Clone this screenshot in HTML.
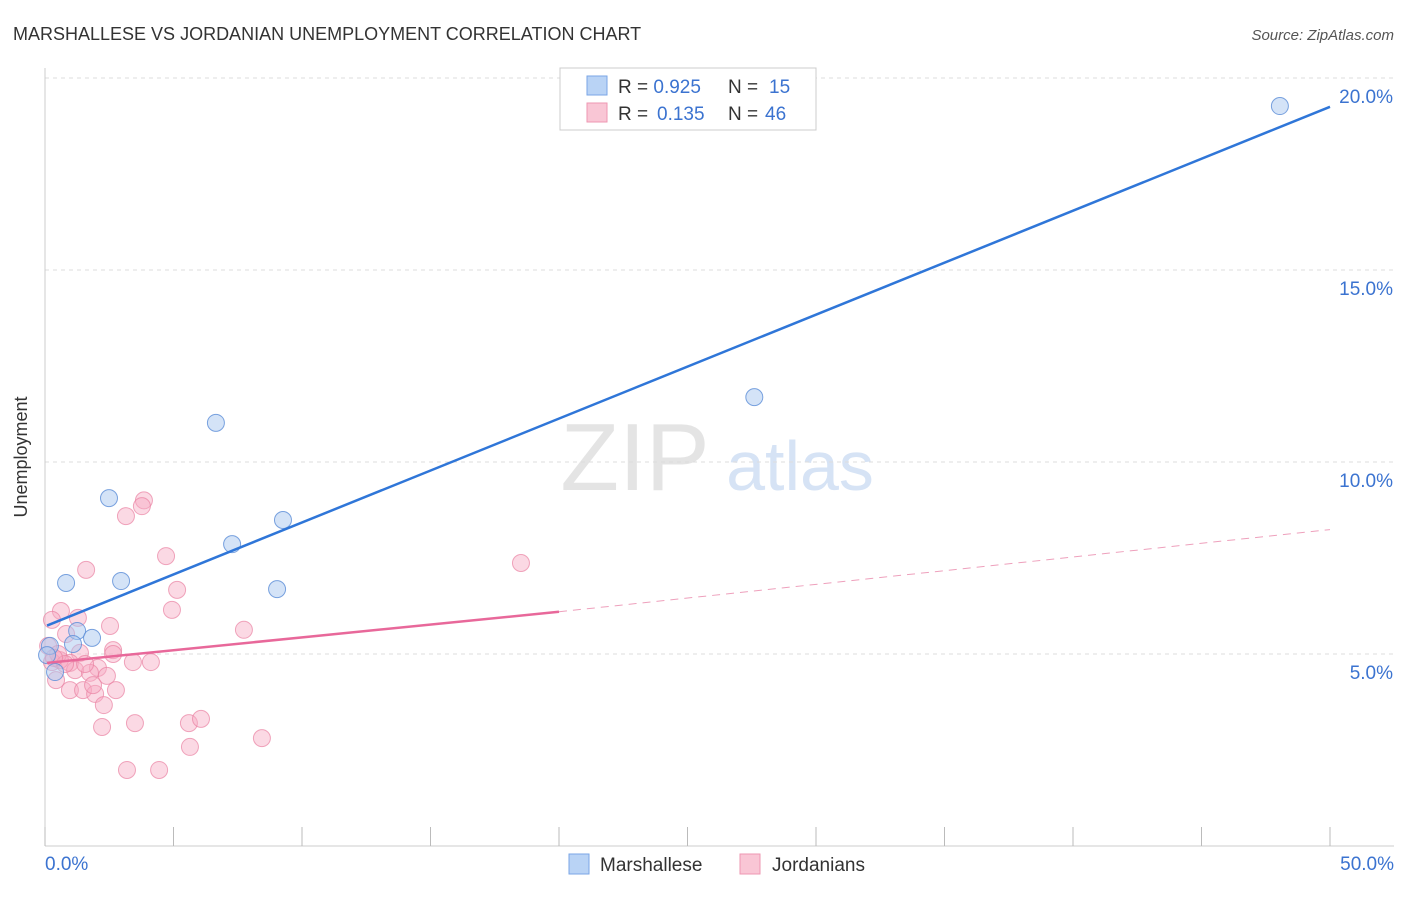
<!DOCTYPE html>
<html><head><meta charset="utf-8"><style>
body{margin:0;background:#fff;font-family:"Liberation Sans",sans-serif;}
svg text{font-family:"Liberation Sans",sans-serif;}
</style></head><body>
<svg width="1406" height="892" xmlns="http://www.w3.org/2000/svg">
<text x="13" y="40" font-size="18" fill="#333">MARSHALLESE VS JORDANIAN UNEMPLOYMENT CORRELATION CHART</text>
<text x="1394" y="40" font-size="15" fill="#555" font-style="italic" text-anchor="end">Source: ZipAtlas.com</text>
<g><text x="635" y="490" font-size="96" fill="#e4e4e4" text-anchor="middle" font-family="Liberation Serif">ZIP</text><text x="800" y="490" font-size="70" fill="#d6e3f5" text-anchor="middle">atlas</text></g>
<g id="grid"></g>
<line x1="45" y1="68" x2="45" y2="846" stroke="#ccc"/>
<line x1="45" y1="846" x2="1394" y2="846" stroke="#ccc"/>
<g id="ticks"></g>
<text x="27" y="457" font-size="18" fill="#333" text-anchor="middle" transform="rotate(-90 27 457)">Unemployment</text>
<text x="45" y="870" font-size="19" fill="#3b73d0">0.0%</text>
<text x="1394" y="870" font-size="19" fill="#3b73d0" text-anchor="end">50.0%</text>
<g id="pts"></g>
<g id="lines"></g>
<g>
<rect x="560" y="68" width="256" height="62" fill="#fff" stroke="#ccc"/>
<rect x="587" y="76" width="20" height="19" fill="#b9d3f5" stroke="#7aa6e6"/>
<rect x="587" y="103" width="20" height="19" fill="#f9c6d5" stroke="#ee97b2"/>
<text x="618" y="93" font-size="19" fill="#333">R = <tspan fill="#3b73d0">0.925</tspan><tspan x="728">N = </tspan><tspan x="769" fill="#3b73d0">15</tspan></text>
<text x="618" y="120" font-size="19" fill="#333">R = <tspan x="657" fill="#3b73d0">0.135</tspan><tspan x="728">N = </tspan><tspan x="765" fill="#3b73d0">46</tspan></text>
</g>
<g>
<rect x="569" y="854" width="20" height="20" fill="#b9d3f5" stroke="#7aa6e6"/>
<text x="600" y="871" font-size="19" fill="#333">Marshallese</text>
<rect x="740" y="854" width="20" height="20" fill="#f9c6d5" stroke="#ee97b2"/>
<text x="772" y="871" font-size="19" fill="#333">Jordanians</text>
</g>
</svg>
<script>
const yTicks=[5,10,15,20];
const xTicks=[0,5,10,15,20,25,30,35,40,45,50];
const blueX=[48.05,27.6,6.65,2.49,9.26,7.28,0.82,2.96,9.03,1.25,1.83,1.09,0.19,0.39,0.08];
const blueY=[19.27,11.69,11.02,9.06,8.49,7.86,6.85,6.9,6.69,5.6,5.42,5.26,5.21,4.53,4.97];
const pinkX=[3.85,3.77,3.15,4.71,1.6,5.14,4.94,0.62,1.28,2.53,7.74,0.27,0.82,2.65,2.65,3.42,4.12,1.36,0.97,0.58,0.27,1.17,2.06,1.75,2.41,0.43,0.97,1.48,1.95,2.76,1.87,2.29,2.22,3.5,5.6,6.07,5.64,8.44,3.19,4.44,18.52,0.12,0.51,0.78,1.56,0.35];
const pinkY=[9.0,8.85,8.59,7.55,7.19,6.67,6.15,6.12,5.94,5.73,5.63,5.89,5.52,5.1,5.0,4.79,4.79,5.03,4.77,4.84,4.79,4.58,4.64,4.51,4.43,4.32,4.06,4.06,3.96,4.06,4.19,3.67,3.1,3.2,3.2,3.31,2.58,2.81,1.98,1.98,7.37,5.21,5.0,4.74,4.74,4.9];
const blueLine=[[0.08,5.74],[50,19.25]];
const pinkLine=[[0.08,4.77],[20,6.1],[50,8.24]];
const NS='http://www.w3.org/2000/svg';
const X=v=>45+v*25.7, Y=v=>846-v*38.4;
function mk(t,a,p){const e=document.createElementNS(NS,t);for(const k in a)e.setAttribute(k,a[k]);document.getElementById(p).appendChild(e);return e;}
yTicks.forEach(t=>{
 const l=mk('line',{x1:45,x2:1394,y1:Y(t),y2:Y(t),stroke:'#ddd','stroke-dasharray':'4,4'},'grid');
 
 
 const s=mk('text',{x:1393,y:Y(t)+25,'font-size':19,fill:'#3b73d0','text-anchor':'end'},'ticks');s.textContent=t.toFixed(1)+'%';
 
 
});
xTicks.forEach(t=>{
 const l=mk('line',{x1:X(t),x2:X(t),y1:827,y2:846,stroke:'#bbb'},'ticks');
 
 
});
pinkX.forEach((v,i)=>{
 const c=mk('circle',{cx:X(v),cy:Y(pinkY[i]),r:8.5,fill:'rgba(246,170,195,0.45)',stroke:'rgba(234,130,162,0.7)'},'pts');
 
 
});
blueX.forEach((v,i)=>{
 const c=mk('circle',{cx:X(v),cy:Y(blueY[i]),r:8.5,fill:'rgba(170,200,240,0.5)',stroke:'rgba(90,140,215,0.8)'},'pts');
 
 
});
let b=mk('line',{x1:X(blueLine[0][0]),y1:Y(blueLine[0][1]),x2:X(blueLine[1][0]),y2:Y(blueLine[1][1]),stroke:'#2f76d8','stroke-width':2.5},'lines');


let p1=mk('line',{x1:X(pinkLine[0][0]),y1:Y(pinkLine[0][1]),x2:X(pinkLine[1][0]),y2:Y(pinkLine[1][1]),stroke:'#e8689a','stroke-width':2.5},'lines');


let p2=mk('line',{x1:X(pinkLine[1][0]),y1:Y(pinkLine[1][1]),x2:X(pinkLine[2][0]),y2:Y(pinkLine[2][1]),stroke:'#eea0bc','stroke-width':1,'stroke-dasharray':'8,6'},'lines');


</script>
</body></html>
